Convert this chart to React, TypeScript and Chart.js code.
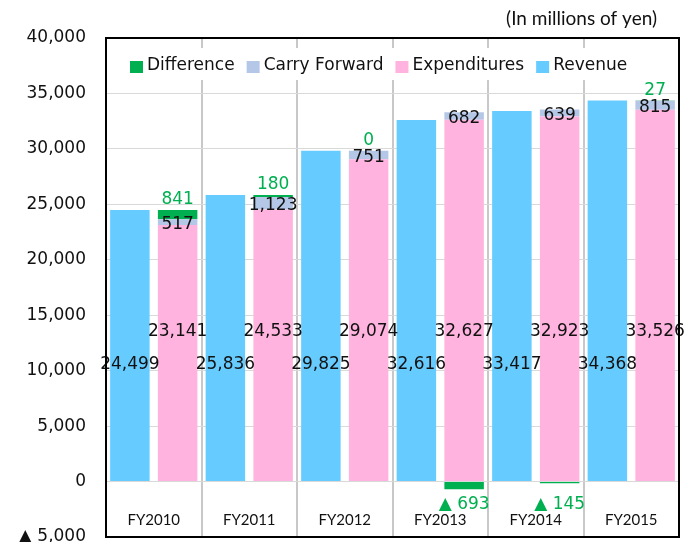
import React, { useEffect, useRef } from 'react';
import { Chart, registerables } from 'chart.js';

Chart.register(...registerables);

// ---- Data ----
const categories = ['FY2010', 'FY2011', 'FY2012', 'FY2013', 'FY2014', 'FY2015'];
const revenue = [24499, 25836, 29825, 32616, 33417, 34368];
const expenditures = [23141, 24533, 29074, 32627, 32923, 33526];
const carryForward = [517, 1123, 751, 682, 639, 815];
const difference = [841, 180, 0, -693, -145, 27];
const yMin = -5000;
const yMax = 40000;
const yStep = 5000;
const unitNote = '(In millions of yen)';

// ---- Styles ----
const C_REV = '#66CCFF';
const C_EXP = '#FFB3DE';
const C_CF = '#B4C7E7';
const C_DIFF = '#00B050';
const TEXT = '#111111';
const NUM_FONT = '17px "DejaVu Sans"';
const LAT_FONT = '"Lato"';

const fmt = (v: number) => Math.abs(v).toLocaleString('en-US');

const overlay = {
  id: 'overlay',
  afterDatasetsDraw(chart: any) {
    const ctx = chart.ctx;
    const ys = chart.scales.y;
    const xs = chart.scales.x;
    ctx.save();
    ctx.font = NUM_FONT;
    ctx.textAlign = 'center';
    ctx.textBaseline = 'alphabetic';
    const half = 6.2;
    chart.data.datasets.forEach((ds: any, di: number) => {
      const meta = chart.getDatasetMeta(di);
      meta.data.forEach((el: any, i: number) => {
        const v = ds.data[i] as number;
        const p = el.getProps(['x', 'y', 'base'], true);
        let cy = 0;
        let text = fmt(v);
        ctx.fillStyle = TEXT;
        if (ds.role === 'rev') {
          cy = ys.getPixelForValue(10700);
        } else if (ds.role === 'exp') {
          cy = ys.getPixelForValue(13700);
        } else if (ds.role === 'cf') {
          cy = (p.y + p.base) / 2 + 1;
        } else {
          ctx.fillStyle = C_DIFF;
          if (v < 0) {
            text = '▲ ' + fmt(v);
            cy = ys.getPixelForValue(0) + 21;
          } else {
            cy = Math.min(p.y, p.base) - 12;
          }
        }
        ctx.fillText(text, p.x, cy + half);
      });
    });

    // category labels inside plot
    ctx.font = '15px ' + LAT_FONT;
    ctx.fillStyle = TEXT;
    categories.forEach((c, i) => {
      ctx.fillText(c, xs.getPixelForValue(i), ys.getPixelForValue(-3450) + 5.4);
    });
    ctx.restore();
  },
  afterDraw(chart: any) {
    const ctx = chart.ctx;
    const ca = chart.chartArea;
    ctx.save();
    // frame
    ctx.strokeStyle = '#000';
    ctx.lineWidth = 2;
    ctx.strokeRect(ca.left, ca.top, ca.right - ca.left, ca.bottom - ca.top);

    // legend (reverse order)
    const items = [...chart.data.datasets].reverse();
    ctx.font = NUM_FONT;
    const widths = items.map((d: any) => ctx.measureText(d.label).width);
    const box = 13, g1 = 4, g2 = 12;
    const total = widths.reduce((s: number, w: number) => s + box + g1 + w, 0) + g2 * (items.length - 1);
    let lx = ca.left + 24;
    const base = ca.top + 32;
    ctx.fillStyle = '#ffffff';
    ctx.fillRect(lx - 10, ca.top + 10, total + 20, 32);
    ctx.textAlign = 'left';
    ctx.textBaseline = 'alphabetic';
    items.forEach((d: any, i: number) => {
      ctx.fillStyle = d.backgroundColor;
      ctx.fillRect(lx, base - 9, box, 12);
      ctx.fillStyle = TEXT;
      ctx.fillText(d.label, lx + box + g1, base);
      lx += box + g1 + widths[i] + g2;
    });

    // unit note
    ctx.font = '19px ' + LAT_FONT;
    ctx.textAlign = 'right';
    ctx.fillStyle = TEXT;
    ctx.fillText(unitNote, ca.right - 22, 25);
    ctx.restore();
  },
};

export default function App() {
  const ref = useRef<HTMLCanvasElement | null>(null);
  useEffect(() => {
    if (!ref.current) return;
    const chart = new Chart(ref.current, {
      type: 'bar',
      data: {
        labels: categories,
        datasets: [
          { label: 'Revenue', role: 'rev', data: revenue, backgroundColor: C_REV, stack: 'rev' } as any,
          { label: 'Expenditures', role: 'exp', data: expenditures, backgroundColor: C_EXP, stack: 'exp' } as any,
          { label: 'Carry Forward', role: 'cf', data: carryForward, backgroundColor: C_CF, stack: 'exp' } as any,
          { label: 'Difference', role: 'diff', data: difference, backgroundColor: C_DIFF, stack: 'exp' } as any,
        ],
      },
      options: {
        animation: false,
        responsive: false,
        categoryPercentage: 1,
        barPercentage: 0.827,
        layout: { padding: { left: 0, top: 38, right: 7, bottom: 5 } },
        plugins: { legend: { display: false }, tooltip: { enabled: false } },
        scales: {
          x: {
            stacked: true,
            grid: { color: '#C8C8C8', lineWidth: 2, drawTicks: false, offset: true },
            border: { display: false },
            ticks: { display: false },
            afterFit: (a: any) => { a.height = 0; },
          },
          y: {
            stacked: true,
            min: yMin,
            max: yMax,
            ticks: {
              stepSize: yStep,
              padding: 20,
              color: TEXT,
              font: { family: 'DejaVu Sans', size: 17 },
              callback: (v: any) => (v < 0 ? '▲ ' + fmt(v) : fmt(v)),
            },
            grid: { color: '#D9D9D9', lineWidth: 1, drawTicks: false },
            border: { display: false },
            afterFit: (a: any) => { a.width = 106; a.paddingTop = 0; a.paddingBottom = 0; },
          },
        },
      } as any,
      plugins: [overlay],
    });
    return () => chart.destroy();
  }, []);
  return (
    <div style={{ position: 'absolute', left: 0, top: 0, width: 686, height: 542, background: '#fff' }}>
      <canvas ref={ref} width={686} height={542} style={{ display: 'block' }} />
    </div>
  );
}
